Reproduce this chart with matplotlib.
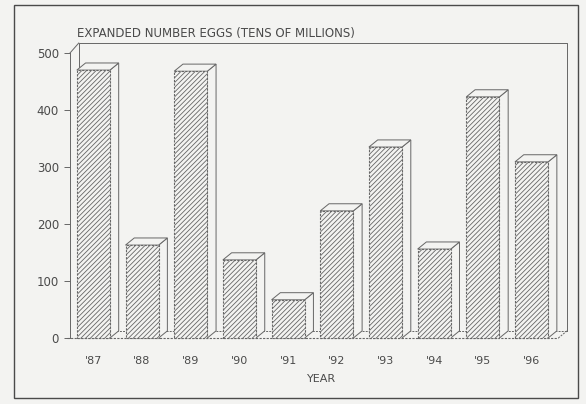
import matplotlib
matplotlib.use("Agg")
import matplotlib.pyplot as plt
from matplotlib.patches import Rectangle, Polygon

years = ["'87", "'88", "'89", "'90", "'91", "'92", "'93", "'94", "'95", "'96"]
eggs = [470, 163, 468, 137, 67, 223, 335, 156, 423, 309]
yticks = [0, 100, 200, 300, 400, 500]

W, H = 586, 404
ink = "#4a4a4a"
line = "#666666"
bg = "#f3f3f1"
plt.rcParams["hatch.color"] = "#a8a8a8"
plt.rcParams["hatch.linewidth"] = 0.6

fig = plt.figure(figsize=(W / 100, H / 100), dpi=100, facecolor=bg)

# axes placed in pixel terms: x 70..570, y 43..345
left, right, top, bottom = 70, 570, 43, 345
ax = fig.add_axes([left / W, 1 - bottom / H, (right - left) / W, (bottom - top) / H])
ax.set_facecolor(bg)
px_per_unit = (338 - 53) / 500.0
ax.set_ylim(-(bottom - 338) / px_per_unit, (338 - top) / px_per_unit)
ax.set_xlim(-0.48, 9.79)

bw = 0.68
dx, dy = 0.18, 12.5
dash = (0, (2.0, 1.2))

# back wall and floor
x0, x1 = -0.48, 9.55
ax.plot([x0 + dx, x0 + dx, x1 + dx, x1 + dx], [dy, 500 + dy + 5, 500 + dy + 5, dy],
        color=line, lw=0.7, clip_on=False)
ax.plot([x0, x0 + dx], [500, 500 + dy + 5], color=line, lw=0.7, clip_on=False)
ax.plot([x0 - 0.06, x1], [0, 0], color=line, lw=0.8, ls=dash, clip_on=False)
ax.plot([x0 + dx, x1 + dx], [dy, dy], color=line, lw=0.7, ls=dash, clip_on=False)
ax.plot([x1, x1 + dx], [0, dy], color=line, lw=0.7, ls=dash, clip_on=False)

for i, v in enumerate(eggs):
    xl = i - bw / 2
    xr = i + bw / 2
    side = Polygon([(xr, 0), (xr + dx, dy), (xr + dx, v + dy), (xr, v)],
                   closed=True, facecolor=bg, edgecolor=line, lw=0.7, zorder=2)
    topf = Polygon([(xl, v), (xl + dx, v + dy), (xr + dx, v + dy), (xr, v)],
                   closed=True, facecolor=bg, edgecolor=line, lw=0.7, zorder=2)
    front = Rectangle((xl, 0), bw, v, facecolor=bg, edgecolor=line, lw=0.8,
                      ls=dash, hatch="///////", zorder=3)
    ax.add_patch(side)
    ax.add_patch(topf)
    ax.add_patch(front)

for s in ["top", "right", "bottom"]:
    ax.spines[s].set_visible(False)
ax.spines["left"].set_color(line)
ax.spines["left"].set_linewidth(0.7)
ax.spines["left"].set_bounds(0, 500)
ax.set_yticks(yticks)
ax.set_yticklabels([str(t) for t in yticks], fontsize=8.5, color=ink)
ax.tick_params(axis="y", length=4, width=0.7, color=line, pad=4)
ax.set_xticks(range(len(years)))
ax.set_xticklabels(years, fontsize=8, color=ink)
ax.tick_params(axis="x", length=0, pad=8)

fig.text(77 / W, 1 - 33 / H, "EXPANDED NUMBER EGGS (TENS OF MILLIONS)",
         fontsize=8.5, color=ink, va="center", ha="left")
fig.text(322 / W, 1 - 379 / H, "YEAR", fontsize=8, color=ink, va="center", ha="center")

fig.patches.append(Rectangle((14 / W, 1 - 398 / H), (578 - 14) / W, (398 - 5) / H,
                             transform=fig.transFigure, fill=False, edgecolor=ink, lw=1.0))

fig.savefig("out.png", dpi=100, facecolor=bg)
